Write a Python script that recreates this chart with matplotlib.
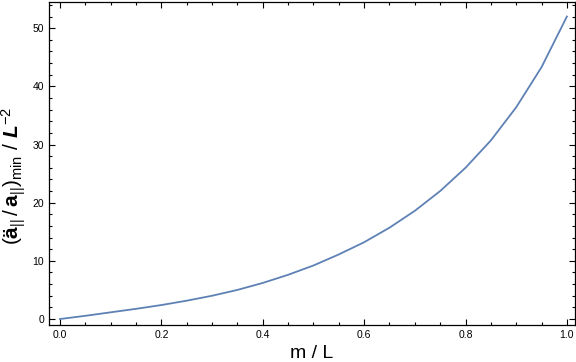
import matplotlib
matplotlib.use("Agg")
import matplotlib.pyplot as plt
from matplotlib.ticker import MultipleLocator

plt.rcParams['font.family'] = ['Liberation Sans', 'DejaVu Sans']
plt.rcParams['mathtext.fontset'] = 'custom'
plt.rcParams['mathtext.rm'] = 'Liberation Sans'
plt.rcParams['mathtext.it'] = 'Liberation Sans:italic'
plt.rcParams['mathtext.bf'] = 'Liberation Sans:bold'
plt.rcParams['mathtext.bfit'] = 'Liberation Sans:bold:italic'

m_over_L = [0.0, 0.05, 0.1, 0.15, 0.2, 0.25, 0.3, 0.35, 0.4, 0.45, 0.5,
            0.55, 0.6, 0.65, 0.7, 0.75, 0.8, 0.85, 0.9, 0.95, 1.0]
accel_ratio = [0.0, 0.55, 1.15, 1.75, 2.4, 3.15, 4.0, 5.0, 6.2, 7.6, 9.2,
               11.1, 13.2, 15.7, 18.6, 22.0, 26.0, 30.7, 36.4, 43.3, 52.0]

fig = plt.figure(figsize=(5.76, 3.62), dpi=100)
ax = fig.add_axes([49/576, 1-325/362, (575-49)/576, (325-2)/362])
ax.plot(m_over_L, accel_ratio, color='#5E81B5', lw=1.3)

ax.set_xlim(-0.0217, 1.016)
ax.set_ylim(-1.03, 54.5)
ax.xaxis.set_major_locator(MultipleLocator(0.2))
ax.xaxis.set_minor_locator(MultipleLocator(0.05))
ax.yaxis.set_major_locator(MultipleLocator(10))
ax.yaxis.set_minor_locator(MultipleLocator(2))
ax.xaxis.set_major_formatter(plt.FuncFormatter(lambda v, p: f"{v:.1f}"))
ax.tick_params(which='both', direction='in', top=True, right=True,
               labelsize=7.5, colors='black', width=0.8)
ax.tick_params(which='major', length=4)
ax.tick_params(which='minor', length=2.5)
for s in ax.spines.values():
    s.set_linewidth(0.9)

ax.set_xlabel('m / L', fontsize=14, labelpad=4)
ax.set_ylabel(r'$(\mathbf{ä}_{||}\,/\,\mathbf{a}_{||})_{\mathrm{min}}$ / $\mathbfit{L}^{-2}$',
              fontsize=15)
ax.yaxis.set_label_coords(-0.04, 0.46)

fig.savefig('out.png', dpi=100)
